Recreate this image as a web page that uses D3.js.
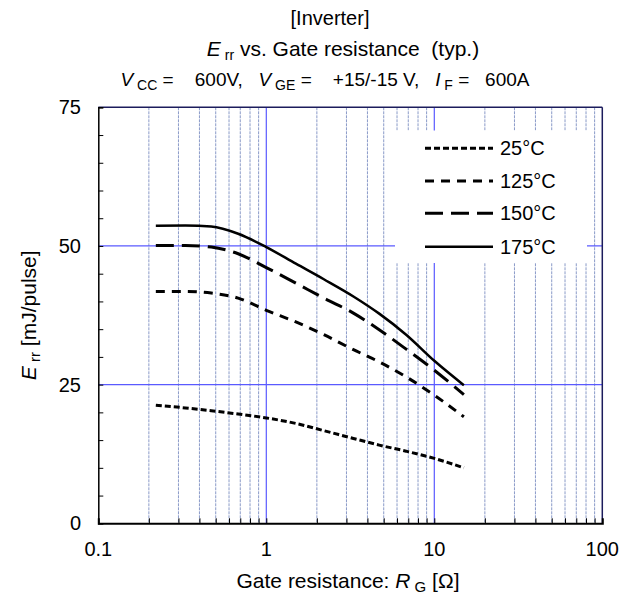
<!DOCTYPE html>
<html>
<head>
<meta charset="utf-8">
<script src="https://cdn.jsdelivr.net/npm/d3@7"></script>
<style>
  html, body { margin: 0; padding: 0; background: #fff; }
  svg { display: block; }
  text { font-family: "Liberation Sans", Arial, sans-serif; fill: #000; }
</style>
</head>
<body>
<svg id="chart" width="630" height="594"></svg>
<script>
// Gate resistance values [Ohm]
const rg = [0.22, 0.33, 0.47, 0.68, 1, 1.5, 2.2, 3.3, 4.7, 6.8, 10, 15];
// Reverse recovery energy [mJ/pulse] per junction temperature
const err25  = [21.3, 20.8, 20.3, 19.7, 19.0, 18.0, 16.7, 15.3, 14.1, 13.0, 11.7, 10.0];
const err125 = [41.8, 41.8, 41.5, 40.6, 38.4, 36.3, 34.0, 31.3, 29.1, 26.4, 23.1, 19.2];
const err150 = [50.1, 50.1, 49.8, 48.6, 46.1, 43.3, 40.6, 37.9, 34.9, 31.4, 27.6, 23.2];
const err175 = [53.65, 53.7, 53.5, 52.2, 49.8, 46.8, 44.0, 40.9, 37.8, 34.0, 29.3, 24.9];
const seriesNames = ["25°C", "125°C", "150°C", "175°C"];
const xTicks = [0.1, 1, 10, 100];
const xTickLabels = ["0.1", "1", "10", "100"];
const yTicks = [0, 25, 50, 75];

const svg = d3.select("#chart");
const L = 98.3, R = 602.3, T = 107.3, B = 523.3;

const x = d3.scaleLog().domain([0.1, 100]).range([L, R]);
const y = d3.scaleLinear().domain([0, 75]).range([B, T]);

const styles = [
  { dash: "6,3",  width: 3 },
  { dash: "9,7",  width: 3 },
  { dash: "18,8", width: 3 },
  { dash: null,   width: 2.5 }
];
const seriesData = [err25, err125, err150, err175];

// Minor vertical grid (dashed) and major grid (solid blue)
const minor = [];
[0.1, 1, 10].forEach(d => { for (let m = 2; m <= 9; m++) minor.push(d * m); });
const grid = svg.append("g");
grid.selectAll("line.minor").data(minor).join("line")
  .attr("x1", d => x(d)).attr("x2", d => x(d))
  .attr("y1", T).attr("y2", B)
  .attr("stroke", "#8a9ac8").attr("stroke-width", 1)
  .attr("stroke-dasharray", "3,1");
grid.selectAll("line.majx").data([1, 10]).join("line")
  .attr("x1", d => x(d)).attr("x2", d => x(d))
  .attr("y1", T).attr("y2", B)
  .attr("stroke", "#5a5aff").attr("stroke-width", 1.2);
grid.selectAll("line.majy").data([25, 50]).join("line")
  .attr("x1", L).attr("x2", R)
  .attr("y1", d => y(d)).attr("y2", d => y(d))
  .attr("stroke", "#5a5aff").attr("stroke-width", 1.2);

// Legend background masks the grid
svg.append("rect").attr("x", 395).attr("y", 130.5).attr("width", 192).attr("height", 132.5)
  .attr("fill", "#fff");

// Frame: top/right navy, left/bottom black
svg.append("line").attr("x1", L).attr("x2", R).attr("y1", T).attr("y2", T)
  .attr("stroke", "#1c1c5c").attr("stroke-width", 1.5);
svg.append("line").attr("x1", R).attr("x2", R).attr("y1", T).attr("y2", B)
  .attr("stroke", "#1c1c5c").attr("stroke-width", 1.5);

// Axes with inward ticks
const yMinor = d3.range(0, 76, 5);
svg.append("g").attr("transform", `translate(${L},0)`)
  .call(d3.axisRight(y).tickValues(yMinor).tickSize(5).tickFormat(""))
  .call(g => g.select(".domain").attr("stroke", "#000").attr("stroke-width", 1.5));
svg.append("g").attr("transform", `translate(0,${B})`)
  .call(d3.axisTop(x).tickValues(minor.concat([1, 10])).tickSize(5).tickFormat(""))
  .call(g => g.select(".domain").attr("stroke", "#000").attr("stroke-width", 2));

// Tick labels
svg.append("g").selectAll("text").data(yTicks).join("text")
  .attr("x", 81).attr("y", d => y(d) + 7)
  .attr("text-anchor", "end").attr("font-size", 20).text(d => d);
svg.append("g").selectAll("text").data(xTicks).join("text")
  .attr("x", d => x(d)).attr("y", 556)
  .attr("text-anchor", "middle").attr("font-size", 20)
  .text((d, i) => xTickLabels[i]);

// Curves
const line = d3.line().x(d => x(d[0])).y(d => y(d[1])).curve(d3.curveMonotoneX);
seriesData.forEach((vals, i) => {
  svg.append("path")
    .datum(rg.map((r, j) => [r, vals[j]]))
    .attr("d", line)
    .attr("fill", "none").attr("stroke", "#000")
    .attr("stroke-width", styles[i].width)
    .attr("stroke-dasharray", styles[i].dash);
});

// Legend
const legY = [148.3, 181, 213.3, 246.7];
seriesNames.forEach((name, i) => {
  svg.append("line").attr("x1", 425).attr("x2", 493)
    .attr("y1", legY[i]).attr("y2", legY[i])
    .attr("stroke", "#000").attr("stroke-width", styles[i].width)
    .attr("stroke-dasharray", styles[i].dash);
  svg.append("text").attr("x", 500).attr("y", legY[i] + 7)
    .attr("font-size", 20).text(name);
});

// Titles
svg.append("text").attr("x", 330).attr("y", 25).attr("text-anchor", "middle")
  .attr("font-size", 20).text("[Inverter]");
const t2 = svg.append("text").attr("x", 343).attr("y", 56).attr("text-anchor", "middle")
  .attr("font-size", 21).style("white-space", "pre");
t2.append("tspan").attr("font-style", "italic").text("E");
t2.append("tspan").attr("font-size", 14).attr("dy", 4).text(" rr");
t2.append("tspan").attr("dy", -4).text(" vs. Gate resistance  (typ.)");

const t3 = svg.append("text").attr("x", 325).attr("y", 86).attr("text-anchor", "middle")
  .attr("font-size", 19).style("white-space", "pre");
const sub = (txt) => { t3.append("tspan").attr("font-size", 14).attr("dy", 4).text(txt); };
const main = (txt) => t3.append("tspan").attr("font-style", "italic").text(txt);
main("V"); sub(" CC");
t3.append("tspan").attr("dy", -4).text(" =    600V,   ");
main("V"); sub(" GE");
t3.append("tspan").attr("dy", -4).text(" =    +15/-15 V,   ");
main("I"); sub(" F");
t3.append("tspan").attr("dy", -4).text(" =   600A");

// Axis titles
const xl = svg.append("text").attr("x", 348).attr("y", 588).attr("text-anchor", "middle")
  .attr("font-size", 21).style("white-space", "pre");
xl.append("tspan").text("Gate resistance: ");
xl.append("tspan").attr("font-style", "italic").text("R");
xl.append("tspan").attr("font-size", 15).attr("dy", 4).text(" G");
xl.append("tspan").attr("dy", -4).text(" [Ω]");

const yl = svg.append("text")
  .attr("transform", `translate(36,${(T + B) / 2}) rotate(-90)`)
  .attr("text-anchor", "middle").attr("font-size", 21).style("white-space", "pre");
yl.append("tspan").attr("font-style", "italic").text("E");
yl.append("tspan").attr("font-size", 15).attr("dy", 4).text(" rr");
yl.append("tspan").attr("dy", -4).text(" [mJ/pulse]");
</script>
</body>
</html>
